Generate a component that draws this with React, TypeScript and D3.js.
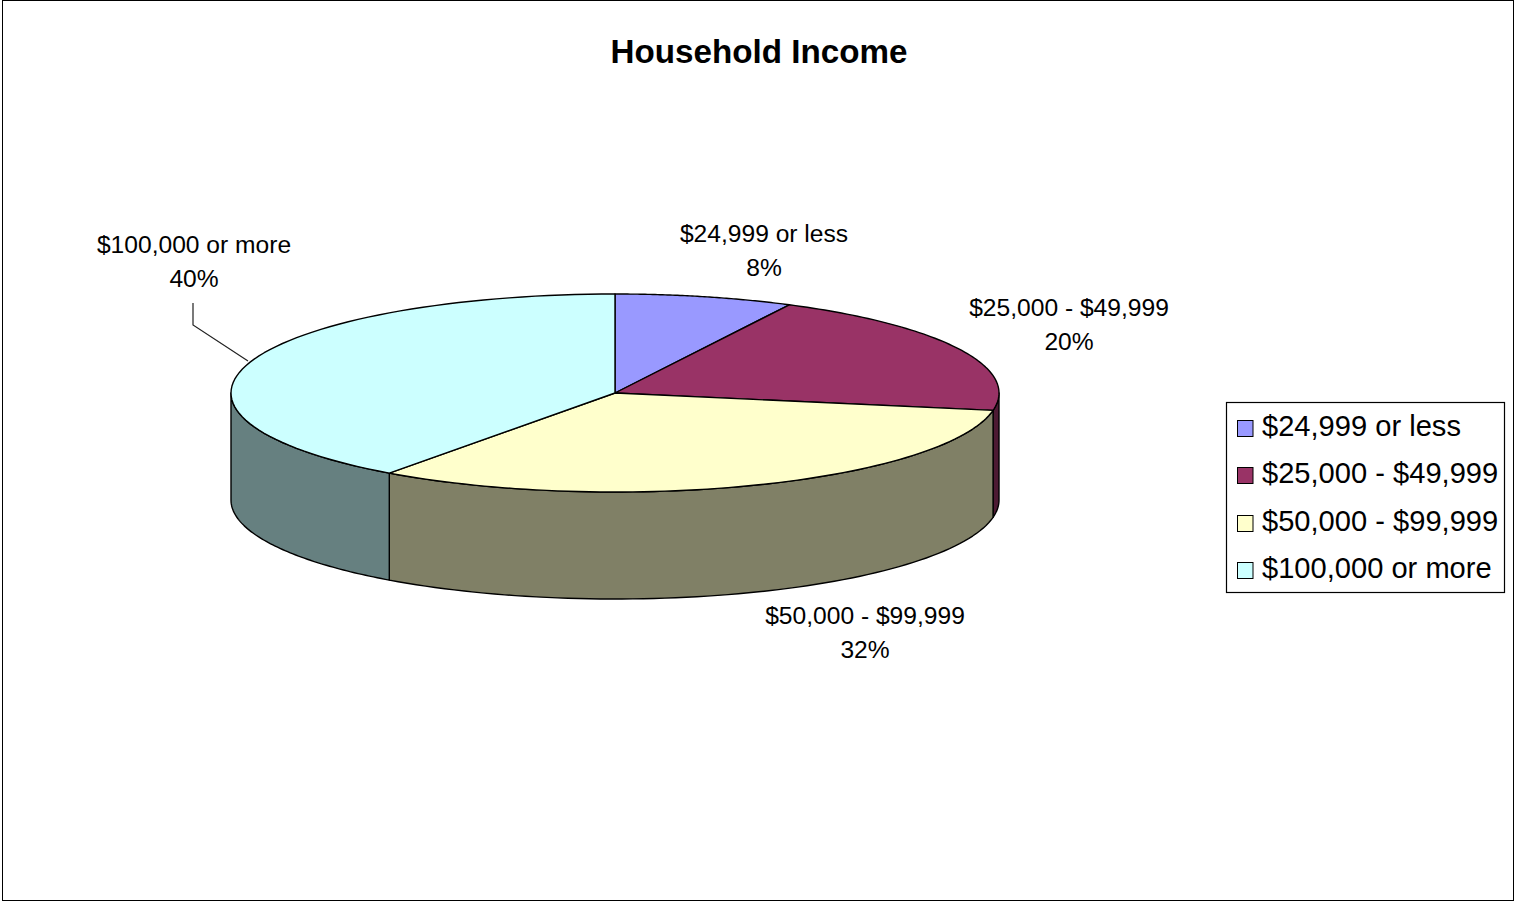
import React from "react";
import * as d3 from "d3";

const categories = ["$24,999 or less", "$25,000 - $49,999", "$50,000 - $99,999", "$100,000 or more"];
const values = [7.5, 20.3, 32.2, 40];
const percentLabels = ["8%", "20%", "32%", "40%"];
const topColors = ["#9999FF", "#993366", "#FFFFCC", "#CCFFFF"];
const sideColors = ["#4D4D80", "#4D1A33", "#808066", "#668080"];
const labelAnchors: [number, number][] = [[764, 235], [1069, 309], [865, 617], [194, 246]];
const chartTitle = "Household Income";

const W = 1514, H = 901;
const cx = 615, cy = 393, rx = 384, ry = 99, depth = 107;
const FONT = "'Liberation Sans', Arial, sans-serif";

const slices = d3.pie<number>().sort(null)(values);
const px = d3.scaleLinear().domain([-1, 1]).range([cx - rx, cx + rx]);
const py = d3.scaleLinear().domain([-1, 1]).range([cy - ry, cy + ry]);
const pt = (a: number, dy = 0): [number, number] => [px(Math.sin(a)), py(-Math.cos(a)) + dy];
const line = d3.line();
const samples = (a0: number, a1: number) => d3.range(0, 73).map((i) => a0 + ((a1 - a0) * i) / 72);

function topPath(a0: number, a1: number) {
  return line([[cx, cy], ...samples(a0, a1).map((a) => pt(a))]) + "Z";
}
function sidePath(a0: number, a1: number) {
  const lo = Math.max(a0, Math.PI / 2), hi = Math.min(a1, (3 * Math.PI) / 2);
  if (hi <= lo) return null;
  const s = samples(lo, hi);
  return line([...s.map((a) => pt(a)), ...s.slice().reverse().map((a) => pt(a, depth))]) + "Z";
}

const legendY = [428, 475, 523, 570];

export default function App() {
  return (
    <svg width={W} height={H} style={{ position: "absolute", left: 0, top: 0, background: "#fff" }} fontFamily={FONT}>
      <style>{`body{margin:0}`}</style>
      <rect x={2.5} y={0.5} width={1511} height={900} fill="#fff" stroke="#000" strokeWidth={1} />
      <text x={759} y={54} textAnchor="middle" dominantBaseline="middle" fontSize={33.2} fontWeight="bold" fill="#000">{chartTitle}</text>

      {slices.map((s, i) => {
        const d = sidePath(s.startAngle, s.endAngle);
        return d ? <path key={i} d={d} fill={sideColors[i]} stroke="#000" strokeWidth={1.4} strokeLinejoin="round" /> : null;
      })}
      {slices.map((s, i) => (
        <path key={i} d={topPath(s.startAngle, s.endAngle)} fill={topColors[i]} stroke="#000" strokeWidth={1.4} strokeLinejoin="round" />
      ))}

      <polyline points="193,303 193,325 248,361" fill="none" stroke="#222" strokeWidth={1.2} />

      {categories.map((c, i) => (
        <g key={c} fontSize={24.6} fill="#000" textAnchor="middle">
          <text x={labelAnchors[i][0]} y={labelAnchors[i][1]} dominantBaseline="middle">{c}</text>
          <text x={labelAnchors[i][0]} y={labelAnchors[i][1] + 34} dominantBaseline="middle">{percentLabels[i]}</text>
        </g>
      ))}

      <rect x={1226.5} y={402.5} width={278} height={190} fill="#fff" stroke="#000" strokeWidth={1.2} />
      {categories.map((c, i) => (
        <g key={c}>
          <rect x={1237.5} y={legendY[i] - 7.5} width={15.5} height={16} fill={topColors[i]} stroke="#000" strokeWidth={1} />
          <text x={1262} y={legendY[i]} dominantBaseline="middle" fontSize={29.1} fill="#000">{c}</text>
        </g>
      ))}
    </svg>
  );
}
